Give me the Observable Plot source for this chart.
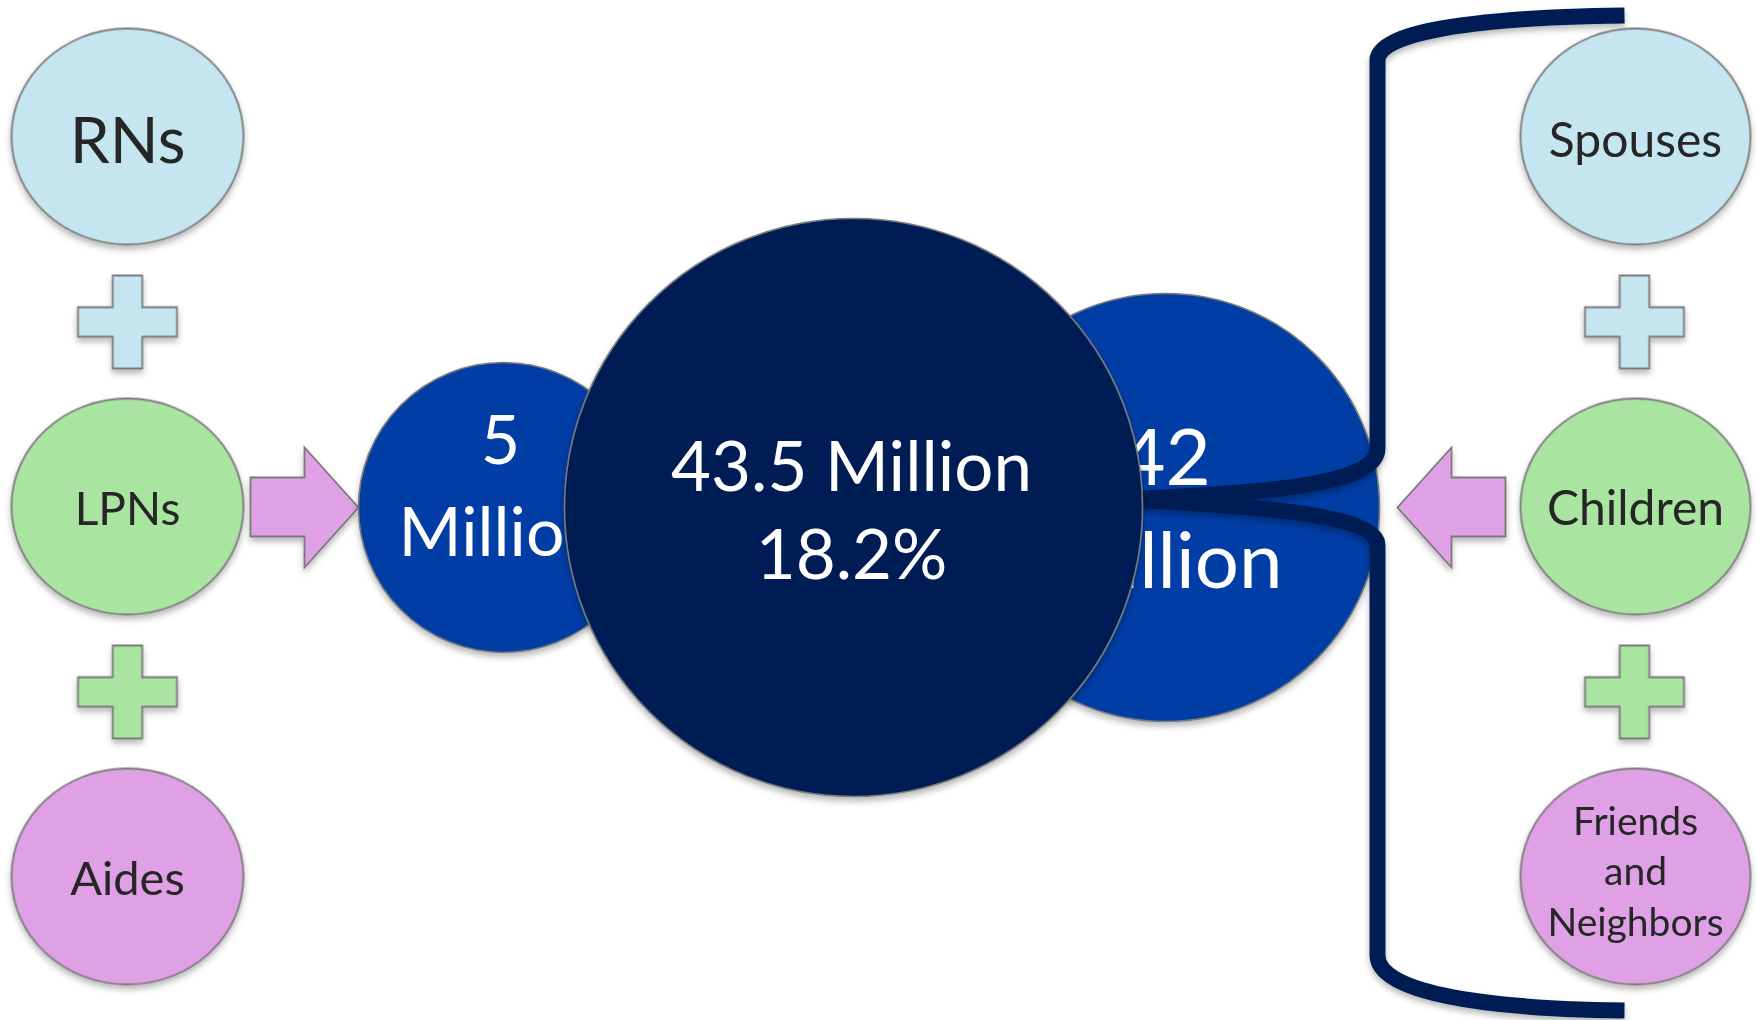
<!DOCTYPE html>
<html>
<head>
<meta charset="utf-8">
<script src="https://cdn.jsdelivr.net/npm/d3@7"></script>
<script src="https://cdn.jsdelivr.net/npm/@observablehq/plot@0.6"></script>
<style>
  html, body { margin: 0; padding: 0; background: #ffffff; }
  #chart svg { display: block; }
</style>
</head>
<body>
<div id="chart"></div>
<script>
// ---------------- DATA ----------------
const paidCaregivers = ["RNs", "LPNs", "Aides"];
const familyCaregivers = ["Spouses", "Children", "Friends\nand\nNeighbors"];
const paidMillions = 5;          // paid caregivers (millions)
const familyMillions = 42;       // family caregivers (millions)
const totalMillions = 43.5;      // total caregivers (millions)
const totalSharePct = 18.2;      // share of population (%)
const categoryColors = ["#c5e6f0", "#a9e4a1", "#dfa0e6"];

// ---------------- LAYOUT (pixel space, mapped through Plot's x/y scales) ----------------
const W = 1758, H = 1020;
const leftX = 127, rightX = 1635;
const rowY = [136, 506, 876];
const plusY = [321.5, 691.5];
const labelBaselineLeft = [162, 524, 894];
const labelBaselineRight = [156, 524, 935];
const labelSizeLeft = [64, 46, 47];
const labelSizeRight = [48, 48, 39];
const bubbles = {
  paid:   {x: 503,  y: 507, r: 145, fill: "#003da5", textX: 500,  baseline: 555, size: 68, lh: 1.34},
  family: {x: 1165, y: 507, r: 214, fill: "#003da5", textX: 1165, baseline: 587, size: 78, lh: 1.31},
  total:  {x: 853,  y: 507, r: 289, fill: "#001f54", textX: 851,  baseline: 578, size: 69, lh: 1.275}
};
const arrowTipLeft = {x: 358, y: 507};
const arrowTipRight = {x: 1397, y: 507};
const bracketAnchor = {x: 1377, y: 507};

const GREY = "#7a7a7a";
const NAVY = "#001f54";
const INK = "#262626";
const FONT = "Lato, 'Open Sans', sans-serif";

// ---------------- CUSTOM SYMBOLS ----------------
const ellipse = (ratio) => ({
  draw(ctx, size) {
    const ry = Math.sqrt(size / Math.PI), rx = ry * ratio, k = 0.5523;
    ctx.moveTo(rx, 0);
    ctx.bezierCurveTo(rx, ry * k, rx * k, ry, 0, ry);
    ctx.bezierCurveTo(-rx * k, ry, -rx, ry * k, -rx, 0);
    ctx.bezierCurveTo(-rx, -ry * k, -rx * k, -ry, 0, -ry);
    ctx.bezierCurveTo(rx * k, -ry, rx, -ry * k, rx, 0);
    ctx.closePath();
  }
});
const plusSign = {
  draw(ctx) {
    const hx = 49.5, hy = 46.5, t = 14.75;
    const pts = [[-t,-hy],[t,-hy],[t,-t],[hx,-t],[hx,t],[t,t],[t,hy],[-t,hy],[-t,t],[-hx,t],[-hx,-t],[-t,-t]];
    ctx.moveTo(...pts[0]);
    for (const p of pts.slice(1)) ctx.lineTo(...p);
    ctx.closePath();
  }
};
const arrow = (dir) => ({
  draw(ctx) {
    const s = dir; // 1 = points right (tip at origin), -1 = points left
    const pts = [[0,0],[-54*s,-60],[-54*s,-30],[-108*s,-30],[-108*s,29],[-54*s,29],[-54*s,60]];
    ctx.moveTo(...pts[0]);
    for (const p of pts.slice(1)) ctx.lineTo(...p);
    ctx.closePath();
  }
});
const bracket = {
  draw(ctx) {
    ctx.moveTo(247, -492);
    ctx.bezierCurveTo(93, -490, 0, -475, 0, -447);
    ctx.lineTo(0, -59);
    ctx.bezierCurveTo(0, -22, -117, -14, -257, -8);
    ctx.bezierCurveTo(-117, -2, 0, 8, 0, 38);
    ctx.lineTo(0, 448);
    ctx.bezierCurveTo(0, 483, 93, 501, 247, 503);
  }
};

// ---------------- TABLES ----------------
const leftNodes = paidCaregivers.map((name, i) => ({name, x: leftX, y: rowY[i], fill: categoryColors[i], base: labelBaselineLeft[i], size: labelSizeLeft[i]}));
const rightNodes = familyCaregivers.map((name, i) => ({name, x: rightX, y: rowY[i], fill: categoryColors[i], base: labelBaselineRight[i], size: labelSizeRight[i]}));
const leftPlus = plusY.map((y, i) => ({x: leftX, y, fill: categoryColors[i]}));
const rightPlus = plusY.map((y, i) => ({x: rightX - 1, y, fill: categoryColors[i]}));

const bubbleDot = (b) => Plot.dot([b], {x: "x", y: "y", r: b.r, fill: b.fill, stroke: GREY, strokeWidth: 1.6});
const bubbleText = (b, label) => Plot.text([{x: b.textX, y: b.baseline, label}], {
  x: "x", y: "y", text: "label", fill: "white", fontSize: b.size, fontFamily: FONT,
  lineAnchor: "bottom", textAnchor: "middle", lineHeight: b.lh
});
const nodeTexts = (nodes, lh) => nodes.map(n => Plot.text([n], {
  x: "x", y: "base", text: "name", fill: INK, fontSize: n.size, fontFamily: FONT,
  lineAnchor: "bottom", textAnchor: "middle", lineHeight: lh
}));

const chart = Plot.plot({
  width: W,
  height: H,
  margin: 0,
  x: {domain: [0, W], axis: null},
  y: {domain: [0, H], reverse: true, axis: null},
  color: {type: "identity"},
  style: {background: "white", overflow: "visible"},
  marks: [
    // left column
    Plot.dot(leftNodes, {x: "x", y: "y", r: 108, symbol: ellipse(116 / 108), fill: "fill", stroke: GREY, strokeWidth: 1.8}),
    Plot.dot(leftPlus, {x: "x", y: "y", r: 1, symbol: plusSign, fill: "fill", stroke: GREY, strokeWidth: 1.8}),
    Plot.dot([arrowTipLeft], {x: "x", y: "y", r: 1, symbol: arrow(1), fill: categoryColors[2], stroke: GREY, strokeWidth: 1.8}),
    ...nodeTexts(leftNodes, 1.2),
    // bubbles
    bubbleDot(bubbles.paid),
    bubbleText(bubbles.paid, `${paidMillions}\nMillion`),
    bubbleDot(bubbles.family),
    bubbleText(bubbles.family, `${familyMillions}\nMillion`),
    Plot.dot([bracketAnchor], {x: "x", y: "y", r: 1, symbol: bracket, fill: "none", stroke: NAVY, strokeWidth: 16, strokeLinejoin: "round"}),
    bubbleDot(bubbles.total),
    bubbleText(bubbles.total, `${totalMillions} Million\n${totalSharePct}%`),
    // right column
    Plot.dot(rightNodes, {x: "x", y: "y", r: 108, symbol: ellipse(115 / 108), fill: "fill", stroke: GREY, strokeWidth: 1.8}),
    Plot.dot(rightPlus, {x: "x", y: "y", r: 1, symbol: plusSign, fill: "fill", stroke: GREY, strokeWidth: 1.8}),
    Plot.dot([arrowTipRight], {x: "x", y: "y", r: 1, symbol: arrow(-1), fill: categoryColors[2], stroke: GREY, strokeWidth: 1.8}),
    ...nodeTexts(rightNodes, 1.295)
  ]
});

// soft drop shadows like the original
const svgNS = "http://www.w3.org/2000/svg";
const defs = document.createElementNS(svgNS, "defs");
defs.innerHTML = `<filter id="sh" x="-20%" y="-20%" width="140%" height="140%">
  <feDropShadow dx="0" dy="4" stdDeviation="3" flood-color="#000" flood-opacity="0.28"/>
</filter>`;
chart.insertBefore(defs, chart.firstChild);
chart.querySelectorAll('g[aria-label="dot"]').forEach(g => g.setAttribute("filter", "url(#sh)"));

document.getElementById("chart").appendChild(chart);
</script>
</body>
</html>
